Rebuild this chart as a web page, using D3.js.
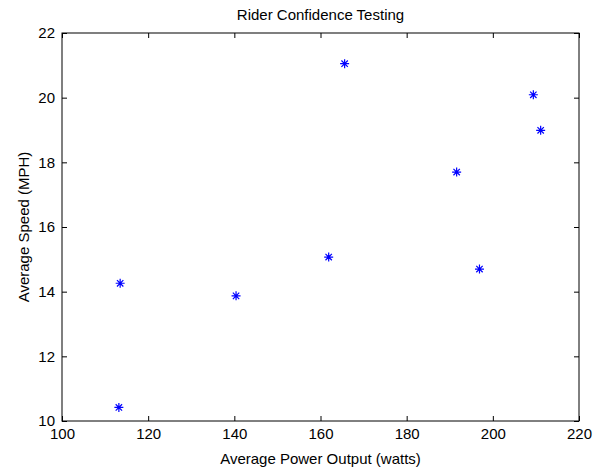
<!DOCTYPE html>
<html lang="en">
<head>
    <meta charset="UTF-8">
    <script src="https://d3js.org/d3.v7.min.js"></script>
    <title>Rider Confidence Testing</title>
    <style>
        body { margin: 0; background: #fff; }
        text { font-family: "Liberation Sans", Arial, sans-serif; fill: #000; }
        .marker { stroke: #0000ff; stroke-width: 1.2; fill: none; }
    </style>
</head>
<body>
    <script>
        // rider data
        var power = [113.2, 113.5, 140.4, 161.9, 165.6, 191.6, 196.9, 209.4, 211.1];
        var speed = [10.42, 14.26, 13.87, 15.07, 21.05, 17.70, 14.70, 20.09, 18.99];
        var xTicks = [100, 120, 140, 160, 180, 200, 220];
        var yTicks = [10, 12, 14, 16, 18, 20, 22];

        var width = 593, height = 467;
        var pl = 62, pt = 33, pr = 579, pb = 421;

        var xscale = d3.scaleLinear().domain([100, 220]).range([pl, pr]);
        var yscale = d3.scaleLinear().domain([10, 22]).range([pb, pt]);

        var svg = d3.select("body").append("svg").attr("width", width).attr("height", height);

        svg.append("rect").attr("x", pl).attr("y", pt)
            .attr("width", pr - pl).attr("height", pb - pt)
            .attr("fill", "#fff").attr("stroke", "#000").attr("stroke-width", 1);

        var xaxis = d3.axisBottom(xscale).tickValues(xTicks).tickSizeInner(-5).tickSizeOuter(0).tickPadding(7);
        var yaxis = d3.axisLeft(yscale).tickValues(yTicks).tickSizeInner(-5).tickSizeOuter(0).tickPadding(7);
        var xtop = d3.axisTop(xscale).tickValues(xTicks).tickSizeInner(-5).tickSizeOuter(0).tickFormat("");
        var yright = d3.axisRight(yscale).tickValues(yTicks).tickSizeInner(-5).tickSizeOuter(0).tickFormat("");

        function styleAxis(g) {
            g.select(".domain").remove();
            g.selectAll("line").attr("stroke", "#000");
            g.selectAll("text").style("font-size", "15px").attr("fill", "#000");
        }

        svg.append("g").attr("transform", "translate(0," + pb + ")").call(xaxis).call(styleAxis);
        svg.append("g").attr("transform", "translate(" + pl + ",0)").call(yaxis).call(styleAxis);
        svg.append("g").attr("transform", "translate(0," + pt + ")").call(xtop).call(styleAxis);
        svg.append("g").attr("transform", "translate(" + pr + ",0)").call(yright).call(styleAxis);

        // asterisk markers
        var pts = power.map(function (p, i) { return { x: p, y: speed[i] }; });
        var r = 4.5, d = 3.2;
        var star = "M0," + (-r) + "V" + r + "M" + (-r) + ",0H" + r +
                   "M" + (-d) + "," + (-d) + "L" + d + "," + d +
                   "M" + (-d) + "," + d + "L" + d + "," + (-d);
        svg.selectAll(".marker").data(pts).enter().append("path")
            .attr("class", "marker")
            .attr("transform", function (p) { return "translate(" + xscale(p.x) + "," + yscale(p.y) + ")"; })
            .attr("d", star);

        svg.append("text").attr("x", (pl + pr) / 2).attr("y", 20)
            .attr("text-anchor", "middle").style("font-size", "15px").text("Rider Confidence Testing");
        svg.append("text").attr("x", (pl + pr) / 2).attr("y", 464)
            .attr("text-anchor", "middle").style("font-size", "15px").text("Average Power Output (watts)");
        svg.append("text").attr("transform", "translate(29," + ((pt + pb) / 2) + ") rotate(-90)")
            .attr("text-anchor", "middle").style("font-size", "15px").text("Average Speed (MPH)");
    </script>
</body>
</html>
